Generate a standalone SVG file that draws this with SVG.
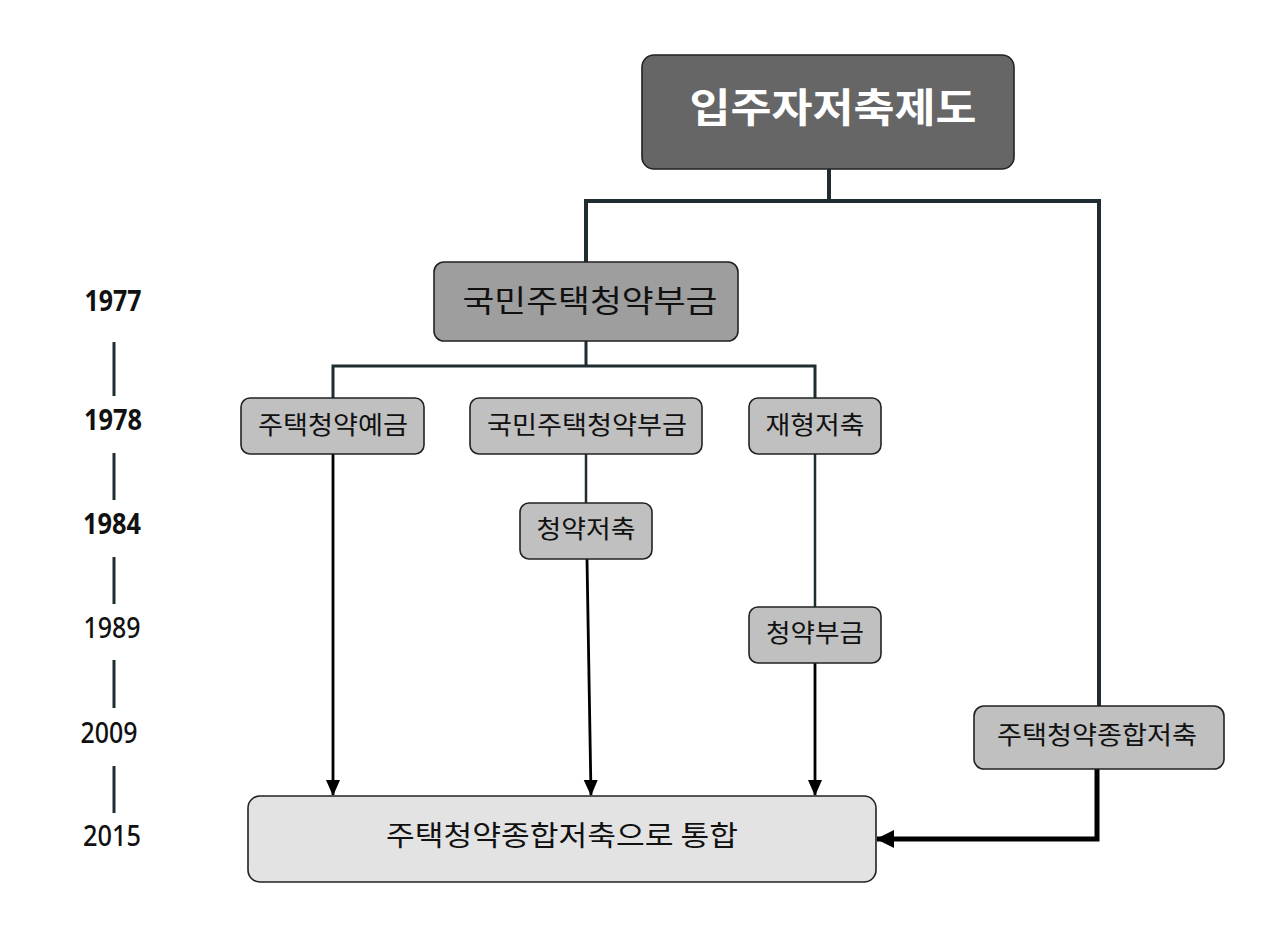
<svg xmlns="http://www.w3.org/2000/svg" width="1280" height="939" viewBox="0 0 1280 939">
<style>
.box{stroke:#222;stroke-width:1.6}
.t{font-family:"Noto Sans CJK KR","Noto Sans",sans-serif;fill:#111;text-anchor:middle}
.yr{font-family:"Noto Sans","Liberation Sans",sans-serif;font-size:28px;fill:#111;text-anchor:middle}
.tree{stroke:#1f2d33;fill:none}
.arr{stroke:#000;fill:none;stroke-width:2.8}
</style>
<defs>
<marker id="ah" markerWidth="16" markerHeight="16" refX="15" refY="8" orient="auto" markerUnits="userSpaceOnUse">
<path d="M0,1 L16,8 L0,15 Z" fill="#000"/>
</marker>
<marker id="ahL" markerWidth="18" markerHeight="20" refX="17" refY="10" orient="auto" markerUnits="userSpaceOnUse">
<path d="M0,1 L18,10 L0,19 Z" fill="#000"/>
</marker>
</defs>
<rect width="1280" height="939" fill="#fff"/>
<g id="timeline">
<text class="yr" x="113" y="311" font-weight="700" textLength="57" lengthAdjust="spacingAndGlyphs">1977</text>
<text class="yr" x="113" y="430" font-weight="700" textLength="58" lengthAdjust="spacingAndGlyphs">1978</text>
<text class="yr" x="112" y="534" font-weight="700" textLength="58" lengthAdjust="spacingAndGlyphs">1984</text>
<text class="yr" x="112" y="638" font-weight="500" textLength="57" lengthAdjust="spacingAndGlyphs">1989</text>
<text class="yr" x="109" y="743" font-weight="500" textLength="57" lengthAdjust="spacingAndGlyphs">2009</text>
<text class="yr" x="112" y="846" font-weight="500" textLength="58" lengthAdjust="spacingAndGlyphs">2015</text>
<g stroke="#1f2d33" stroke-width="3">
<line x1="114" y1="342" x2="114" y2="396"/>
<line x1="114" y1="453" x2="114" y2="500"/>
<line x1="114" y1="557" x2="114" y2="604"/>
<line x1="114" y1="660" x2="114" y2="708"/>
<line x1="114" y1="766" x2="114" y2="813"/>
</g>
</g>
<g id="connectors">
<path class="tree" stroke-width="4" d="M829,169 V201 M586,262 V201 H1099 V706"/>
<path class="tree" stroke-width="3" d="M586,341 V366 M333,398 V366 H815 V398"/>
<path class="tree" stroke-width="2.5" d="M586,454 V503 M815,454 V607"/>
<line class="arr" x1="333" y1="454" x2="333" y2="795" marker-end="url(#ah)"/>
<line class="arr" x1="587" y1="559" x2="591" y2="795" marker-end="url(#ah)"/>
<line class="arr" x1="815" y1="663" x2="815" y2="795" marker-end="url(#ah)"/>
<path d="M1097,769 V839 H877" fill="none" stroke="#000" stroke-width="5" marker-end="url(#ahL)"/>
</g>
<g id="n-root">
<rect class="box" x="642" y="55" width="372" height="114" rx="12" fill="#666"/>
<text class="t" x="833" y="122" font-size="40" font-weight="700" style="fill:#fff" textLength="287" lengthAdjust="spacingAndGlyphs">입주자저축제도</text>
</g>
<g id="n-1977">
<rect class="box" x="434" y="262" width="304" height="79" rx="10" fill="#9e9e9e"/>
<text class="t" x="590" y="312" font-size="31" textLength="255" lengthAdjust="spacingAndGlyphs">국민주택청약부금</text>
</g>
<g id="n-yegeum">
<rect class="box" x="241" y="398" width="183" height="56" rx="9" fill="#c0c0c0"/>
<text class="t" x="333" y="434" font-size="25" textLength="150" lengthAdjust="spacingAndGlyphs">주택청약예금</text>
</g>
<g id="n-bugeum">
<rect class="box" x="470" y="398" width="232" height="56" rx="9" fill="#c0c0c0"/>
<text class="t" x="587" y="434" font-size="25" textLength="200" lengthAdjust="spacingAndGlyphs">국민주택청약부금</text>
</g>
<g id="n-jaehyeong">
<rect class="box" x="749" y="398" width="132" height="56" rx="9" fill="#c0c0c0"/>
<text class="t" x="815" y="434" font-size="25" textLength="99" lengthAdjust="spacingAndGlyphs">재형저축</text>
</g>
<g id="n-jeochuk">
<rect class="box" x="520" y="503" width="132" height="56" rx="9" fill="#c0c0c0"/>
<text class="t" x="586" y="538" font-size="25" textLength="99" lengthAdjust="spacingAndGlyphs">청약저축</text>
</g>
<g id="n-cheongyak-bugeum">
<rect class="box" x="749" y="607" width="132" height="56" rx="9" fill="#c0c0c0"/>
<text class="t" x="815" y="642" font-size="25" textLength="98" lengthAdjust="spacingAndGlyphs">청약부금</text>
</g>
<g id="n-jonghap">
<rect class="box" x="974" y="706" width="250" height="63" rx="10" fill="#c0c0c0"/>
<text class="t" x="1097" y="744" font-size="25" textLength="200" lengthAdjust="spacingAndGlyphs">주택청약종합저축</text>
</g>
<g id="n-tonghap">
<rect class="box" x="248" y="796" width="628" height="86" rx="12" fill="#e3e3e3"/>
<text class="t" x="562" y="846" font-size="28" textLength="352" lengthAdjust="spacingAndGlyphs">주택청약종합저축으로 통합</text>
</g>
</svg>
